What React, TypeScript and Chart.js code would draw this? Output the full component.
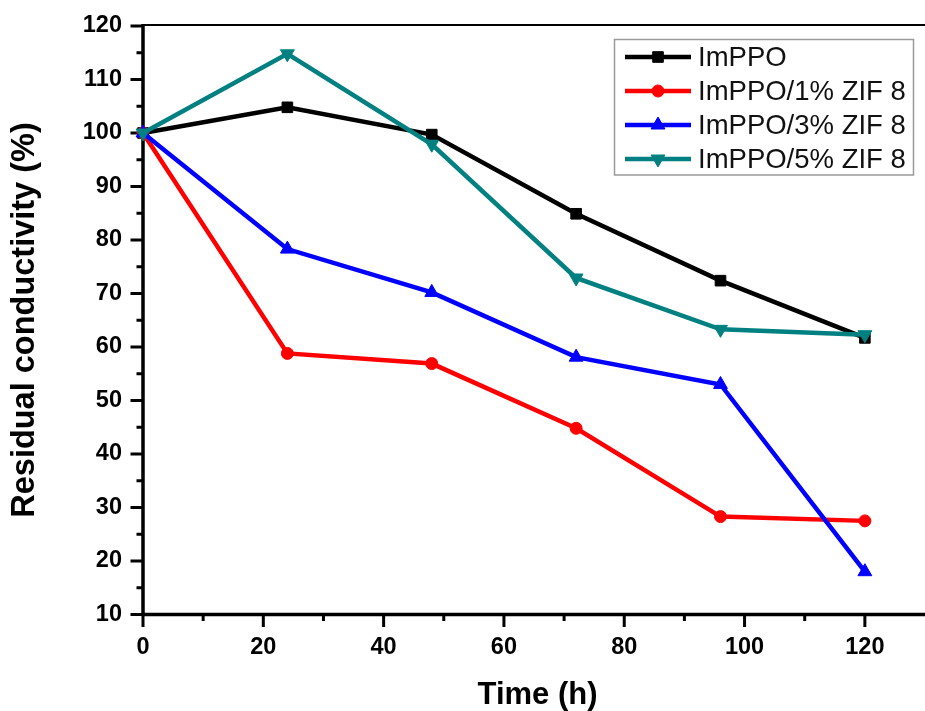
import { useEffect, useRef } from 'react';
import { Chart, registerables } from 'chart.js';

Chart.register(...registerables);

// ---- data ----
const hours = [0, 24, 48, 72, 96, 120];
const seriesNames = ['ImPPO', 'ImPPO/1% ZIF 8', 'ImPPO/3% ZIF 8', 'ImPPO/5% ZIF 8'];
const imppo = [100, 104.8, 99.7, 84.9, 72.4, 61.7];
const zif1 = [100, 58.8, 56.9, 44.8, 28.3, 27.5];
const zif3 = [100, 78.3, 70.2, 58.1, 53.0, 18.0];
const zif5 = [100, 114.8, 97.9, 72.9, 63.3, 62.3];
const xMajorTicks = [0, 20, 40, 60, 80, 100, 120];
const xMinorTicks = [10, 30, 50, 70, 90, 110];
const yMajorTicks = [10, 20, 30, 40, 50, 60, 70, 80, 90, 100, 110, 120];
const yMinorTicks = [15, 25, 35, 45, 55, 65, 75, 85, 95, 105, 115];
const xTitle = 'Time (h)';
const yTitle = 'Residual conductivity (%)';

const FONT = '"Liberation Sans", Arial, sans-serif';

const seriesValues = [imppo, zif1, zif3, zif5];
const seriesColors = ['#000000', '#ff0000', '#0000ff', '#008080'];
const seriesStyles = ['rect', 'circle', 'triangle', 'triangle'];
const seriesRotation = [0, 0, 0, 180];
const seriesRadius = [7.5, 6, 8, 8];

function drawMarker(ctx: CanvasRenderingContext2D, style: string, rot: number, r: number, x: number, y: number) {
  ctx.beginPath();
  if (style === 'rect') {
    const s = Math.SQRT1_2 * r;
    ctx.rect(x - s, y - s, 2 * s, 2 * s);
  } else if (style === 'circle') {
    ctx.arc(x, y, r, 0, Math.PI * 2);
  } else {
    const sgn = rot === 180 ? -1 : 1;
    ctx.moveTo(x, y - sgn * r);
    ctx.lineTo(x + r * Math.sin((2 * Math.PI) / 3), y + sgn * r / 2);
    ctx.lineTo(x - r * Math.sin((2 * Math.PI) / 3), y + sgn * r / 2);
    ctx.closePath();
  }
  ctx.fill();
  ctx.stroke();
}

const framePlugin = {
  id: 'frame',
  beforeDatasetsDraw(chart: any) {
    const { ctx, chartArea: a, scales } = chart;
    const xs = scales.x;
    const ys = scales.y;
    ctx.save();
    ctx.strokeStyle = '#000';
    ctx.lineCap = 'butt';
    // top border
    ctx.lineWidth = 2;
    ctx.beginPath();
    ctx.moveTo(a.left, a.top - 1);
    ctx.lineTo(chart.width, a.top - 1);
    ctx.stroke();
    // ticks
    ctx.lineWidth = 3;
    ctx.beginPath();
    xMajorTicks.forEach((v) => {
      const p = xs.getPixelForValue(v);
      ctx.moveTo(p, a.bottom);
      ctx.lineTo(p, a.bottom + 12.5);
    });
    xMinorTicks.forEach((v) => {
      const p = xs.getPixelForValue(v);
      ctx.moveTo(p, a.bottom);
      ctx.lineTo(p, a.bottom + 6.5);
    });
    yMajorTicks.forEach((v) => {
      const p = ys.getPixelForValue(v);
      ctx.moveTo(a.left, p);
      ctx.lineTo(a.left - 12.5, p);
    });
    yMinorTicks.forEach((v) => {
      const p = ys.getPixelForValue(v);
      ctx.moveTo(a.left, p);
      ctx.lineTo(a.left - 6.5, p);
    });
    ctx.stroke();
    // axes
    ctx.lineWidth = 3.5;
    ctx.beginPath();
    ctx.moveTo(a.left, a.top - 2);
    ctx.lineTo(a.left, a.bottom + 1.75);
    ctx.moveTo(a.left - 1.75, a.bottom);
    ctx.lineTo(chart.width, a.bottom);
    ctx.stroke();
    // axis titles
    ctx.fillStyle = '#000';
    ctx.textAlign = 'center';
    ctx.textBaseline = 'middle';
    ctx.font = `bold 31px ${FONT}`;
    ctx.fillText(xTitle, 537.5, 695.5);
    ctx.save();
    ctx.translate(25, 320);
    ctx.rotate(-Math.PI / 2);
    ctx.font = `bold 32.5px ${FONT}`;
    ctx.fillText(yTitle, 0, 0);
    ctx.restore();
    ctx.restore();
  },
  afterDatasetsDraw(chart: any) {
    const { ctx } = chart;
    ctx.save();
    ctx.strokeStyle = '#9a9a9a';
    ctx.lineWidth = 1.5;
    ctx.strokeRect(614.5, 39.5, 299, 135.5);
    ctx.font = `27.5px ${FONT}`;
    ctx.textBaseline = 'middle';
    ctx.textAlign = 'left';
    seriesNames.forEach((name, i) => {
      const y = 57 + i * 34;
      ctx.strokeStyle = seriesColors[i];
      ctx.fillStyle = seriesColors[i];
      ctx.lineWidth = 4.5;
      ctx.beginPath();
      ctx.moveTo(625, y);
      ctx.lineTo(691, y);
      ctx.stroke();
      ctx.lineWidth = 1;
      drawMarker(ctx, seriesStyles[i], seriesRotation[i], seriesRadius[i], 658, y);
      ctx.fillStyle = '#111';
      ctx.fillText(name, 698, y + 1);
    });
    ctx.restore();
  },
};

export default function App() {
  const ref = useRef<HTMLCanvasElement | null>(null);
  useEffect(() => {
    if (!ref.current) return;
    const datasets = seriesNames.map((name, i) => ({
      label: name,
      data: hours.map((h, j) => ({ x: h, y: seriesValues[i][j] })),
      borderColor: seriesColors[i],
      backgroundColor: seriesColors[i],
      borderWidth: 4.5,
      pointStyle: seriesStyles[i],
      pointRotation: seriesRotation[i],
      pointRadius: seriesRadius[i],
      pointBorderWidth: 1,
      pointBackgroundColor: seriesColors[i],
      pointBorderColor: seriesColors[i],
      tension: 0,
      clip: false as any,
      order: 3 - i,
    }));
    const chart = new Chart(ref.current, {
      type: 'line',
      data: { datasets },
      plugins: [framePlugin],
      options: {
        animation: false,
        responsive: false,
        devicePixelRatio: 1,
        layout: { padding: { top: 26, left: 0, right: 0, bottom: 0 } },
        plugins: { legend: { display: false }, tooltip: { enabled: false } },
        events: [],
        scales: {
          x: {
            type: 'linear',
            min: 0,
            max: 128.5,
            grid: { display: false, drawTicks: false },
            border: { display: false },
            ticks: {
              stepSize: 10,
              includeBounds: false,
              autoSkip: false,
              maxRotation: 0,
              padding: 19,
              color: '#000',
              font: { family: FONT, size: 23.5, weight: 'bold' },
              callback: (v: any) => (xMajorTicks.includes(Number(v)) ? String(v) : ''),
            },
            title: { display: false },
            afterFit: (s: any) => {
              s.height = 96.5;
              s.paddingLeft = 0;
              s.paddingRight = 0;
            },
          },
          y: {
            type: 'linear',
            min: 10,
            max: 120,
            grid: { display: false, drawTicks: false },
            border: { display: false },
            ticks: {
              stepSize: 5,
              autoSkip: false,
              padding: 21,
              color: '#000',
              font: { family: FONT, size: 23.5, weight: 'bold' },
              callback: (v: any) => (yMajorTicks.includes(Number(v)) ? String(v) : ''),
            },
            title: { display: false },
            afterFit: (s: any) => {
              s.width = 143;
              s.paddingTop = 0;
              s.paddingBottom = 0;
            },
          },
        },
      } as any,
    });
    return () => chart.destroy();
  }, []);
  return (
    <div style={{ position: 'absolute', left: 0, top: 0, width: 925, height: 711, background: '#fff' }}>
      <canvas ref={ref} width={925} height={711} style={{ display: 'block' }} />
    </div>
  );
}
